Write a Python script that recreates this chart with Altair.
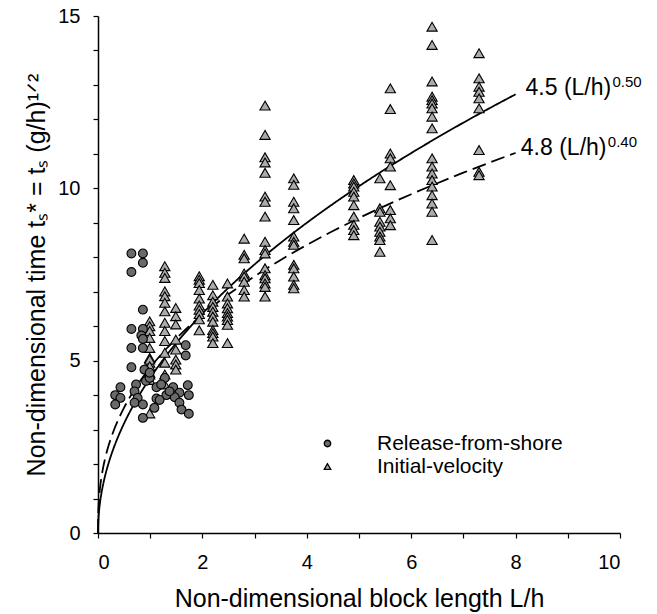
import altair as alt
import pandas as pd

# Release-from-shore (circles)
rfs_x = [0.64, 0.86, 0.86, 0.64, 0.86, 0.64, 0.86, 0.83, 0.86, 0.64, 0.86, 1.68, 1.68, 0.64,
         0.43, 0.33, 0.43, 0.33, 0.73, 0.70, 0.76, 0.70, 0.86, 0.92, 0.99, 1.12, 1.28, 1.44,
         1.56, 1.72, 1.74, 1.31, 1.47, 1.12, 1.08, 1.56, 1.60, 1.74, 0.86, 0.89, 0.99, 1.21,
         1.37, 1.18]
rfs_y = [8.11, 8.11, 7.84, 7.57, 6.48, 5.92, 5.92, 5.73, 5.63, 5.37, 5.37, 5.45, 5.15, 4.81,
         4.23, 4.00, 3.92, 3.73, 4.31, 4.11, 3.92, 3.78, 3.73, 4.41, 4.50, 4.23, 4.50, 4.23,
         4.07, 4.29, 4.00, 4.00, 3.94, 3.90, 3.63, 3.78, 3.58, 3.46, 3.34, 4.74, 4.65, 4.31,
         4.11, 3.86]

# Initial-velocity (triangles): column x value -> y values
iv_cols = {
    0.99: [6.14, 6.00, 5.86, 5.66, 5.37, 5.08, 4.94, 4.65, 4.44, 3.47, 5.03, 4.84, 4.60],
    1.28: [7.74, 7.55, 7.40, 7.01, 6.87, 6.68, 6.43, 6.10, 5.86, 5.57, 5.23, 4.94, 4.60, 4.31],
    1.49: [6.53, 6.29, 6.05, 5.61, 5.32, 5.03, 4.89, 4.74],
    1.94: [7.45, 7.35, 7.25, 7.05, 6.80, 6.60, 6.48, 6.35, 6.20, 5.88],
    2.20: [7.20, 6.90, 6.71, 6.56, 6.42, 6.28, 6.13, 5.89, 5.80, 5.70, 5.51],
    2.48: [7.24, 6.86, 6.66, 6.52, 6.38, 6.28, 6.18, 6.04, 5.51],
    2.80: [8.54, 8.07, 7.97, 7.53, 7.44, 7.29, 7.05, 6.86],
    3.20: [12.40, 11.55, 10.90, 10.75, 10.45, 9.76, 9.61, 9.18, 8.45, 8.21, 8.11, 7.68,
           7.48, 7.39, 7.24, 7.14, 6.86],
    3.75: [10.29, 10.10, 9.61, 9.42, 9.08, 8.60, 8.45, 8.36, 7.78, 7.68, 7.44, 7.20, 7.10],
    4.90: [10.24, 10.14, 10.05, 9.90, 9.76, 9.51, 9.18, 8.94, 8.79, 8.64],
    5.40: [10.29, 9.42, 9.32, 9.03, 8.89, 8.74, 8.60, 8.50, 8.16],
    5.60: [12.90, 12.30, 11.01, 10.87, 10.63, 10.09, 9.37, 9.13, 8.93],
    6.40: [14.69, 14.16, 13.10, 12.66, 12.56, 12.46, 12.32, 12.08, 11.74, 10.87, 10.63,
           10.43, 10.24, 10.05, 9.80, 9.56, 9.32, 8.50],
    7.30: [13.92, 13.19, 12.95, 12.80, 12.61, 12.32, 11.11, 10.48, 10.38],
}

series_names = ["Release-from-shore", "Initial-velocity"]
series_fill = ["#6a6a6a", "#ababab"]
series_size = [78, 105]

# Fit curves: y = a * x^b
fit_a = [4.5, 4.8]
fit_b = [0.50, 0.40]
fit_names = ["4.5 (L/h)", "4.8 (L/h)"]
fit_exp = ["0.50", "0.40"]
fit_dash = ["solid", "dashed"]
label_x = [8.19, 8.10]
label_y = [12.9, 11.16]
curve_x = [0, 0.005, 0.01, 0.02, 0.04, 0.07, 0.1, 0.15, 0.2, 0.3, 0.4, 0.5, 0.7, 1.0, 1.3,
           1.6, 2.0, 2.5, 3.0, 3.5, 4.0, 4.5, 5.0, 5.5, 6.0, 6.5, 7.0, 7.5, 8.0]

rows = [{"x": x, "y": y, "series": series_names[0]} for x, y in zip(rfs_x, rfs_y)]
for cx, ys in iv_cols.items():
    rows += [{"x": cx, "y": y, "series": series_names[1]} for y in ys]
pts = pd.DataFrame(rows)
pts["grp"] = pts["series"]

curves = pd.DataFrame([
    {"x": x, "a": a, "b": b, "fit": n, "dash": d}
    for a, b, n, d in zip(fit_a, fit_b, fit_names, fit_dash) for x in curve_x
])
labels = pd.DataFrame({"fit": fit_names, "exp": fit_exp, "x": label_x, "y": label_y})

FONT = "Liberation Sans"
xs = alt.Scale(domain=[0, 10], nice=False, zero=False)
ys = alt.Scale(domain=[0, 15], nice=False, zero=False)

xax = alt.Axis(values=list(range(0, 11)), labelExpr="datum.value % 2 == 0 ? datum.label : ''",
               labelOverlap=False, title="Non-dimensional block length L/h", grid=False,
               tickSize=5, titlePadding=14, labelPadding=14)
yax = alt.Axis(values=list(range(0, 16)), labelExpr="datum.value % 5 == 0 ? datum.label : ''",
               labelOverlap=False, title="Non-dimensional time tₛ* = tₛ (g/h)¹ᐟ²", grid=False,
               tickSize=5, titlePadding=8, labelPadding=13)

X = alt.X("x:Q", scale=xs, axis=xax)

shape_enc = alt.Shape(
    "series:N", scale=alt.Scale(domain=series_names, range=["circle", "triangle-up"]),
    legend=alt.Legend(title=None, orient="none", legendX=219, legendY=417,
                      labelFont=FONT, labelFontSize=21, labelColor="black", labelLimit=400,
                      symbolSize=42, symbolFillColor="#e3e3e3",
                      symbolStrokeColor="black", symbolStrokeWidth=1.3,
                      labelOffset=39, rowPadding=1, padding=0))
fill_enc = alt.Fill("grp:N", scale=alt.Scale(domain=series_names, range=series_fill), legend=None)

pts_base = alt.Chart(pts).encode(
    x=X, y=alt.Y("y:Q", scale=ys, axis=yax), shape=shape_enc, fill=fill_enc)

circ = pts_base.transform_filter(alt.datum.series == series_names[0]).mark_point(
    filled=True, stroke="black", strokeWidth=1.1, opacity=1, size=series_size[0])
tri = pts_base.transform_filter(alt.datum.series == series_names[1]).mark_point(
    filled=True, stroke="black", strokeWidth=1.1, opacity=1, size=series_size[1])

lines = alt.Chart(curves).transform_calculate(
    yv="datum.a * pow(datum.x, datum.b)"
).mark_line(color="black", strokeWidth=1.8, interpolate="monotone").encode(
    x=X,
    y=alt.Y("yv:Q", scale=ys, axis=yax),
    detail="fit:N",
    strokeDash=alt.StrokeDash("dash:N", scale=alt.Scale(domain=["solid", "dashed"],
                                                         range=[[1, 0], [14, 6]]), legend=None),
)

lab_base = alt.Chart(labels)
lab_main = lab_base.mark_text(align="left", baseline="middle", font=FONT, fontSize=23,
                              color="black").encode(
    x=X, y=alt.Y("y:Q", scale=ys, axis=yax), text="fit:N")
lab_exp = lab_base.mark_text(align="left", baseline="middle", font=FONT, fontSize=15,
                             color="black", dx=87, dy=-6).encode(
    x=X, y=alt.Y("y:Q", scale=ys, axis=yax), text="exp:N")

chart = alt.layer(lines, tri, circ, lab_main, lab_exp).properties(
    width=522, height=517,
    autosize=alt.AutoSizeParams(type="none"),
    padding={"left": 98, "top": 16, "right": 37, "bottom": 81},
).configure_view(stroke=None).configure_axis(
    domainColor="black", domainWidth=1.5, tickColor="black", tickWidth=1.2,
    labelFont=FONT, labelFontSize=20, labelColor="black", labelOverlap=False,
    titleFont=FONT, titleFontSize=25, titleFontWeight="normal", titleColor="black",
)

chart.save("out.html", embed_options={"renderer": "svg", "actions": False})
